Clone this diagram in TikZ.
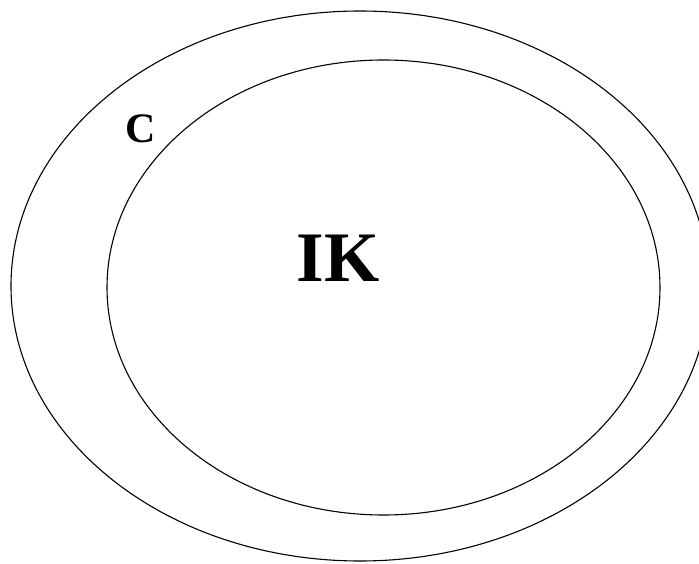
\documentclass[tikz,border=0pt]{standalone}
\usepackage{fontspec}
\setmainfont{Liberation Serif}
\usepackage{tikz}
\tikzstyle{ring} = [draw,line width=1.1pt]

\begin{document}
\begin{tikzpicture}[x=1pt,y=1pt]
\useasboundingbox (0,0) rectangle (699,563);
\clip (0,0) rectangle (699,563);

\draw[ring] (360,277) ellipse (349 and 275);
\draw[ring] (383.5,275.5) ellipse (276.5 and 227.5);

\draw(141,434) node (C) {\fontsize{42}{42}\selectfont\bfseries C};
\draw(338,305) node (IK) {\fontsize{71}{71}\selectfont\bfseries IK};

\end{tikzpicture}
\end{document}
